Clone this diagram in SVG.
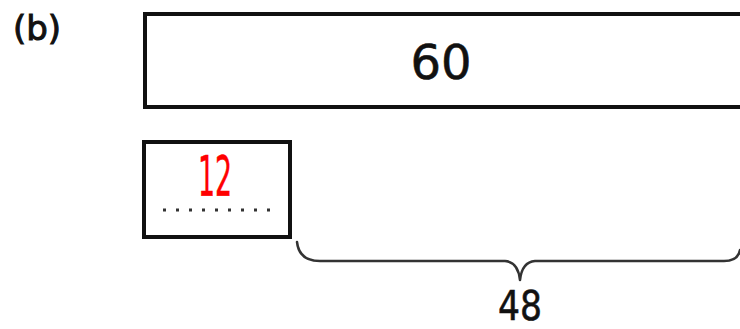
<svg xmlns="http://www.w3.org/2000/svg" width="740" height="329" viewBox="0 0 740 329">
<style>
.box{fill:#fff;stroke:#111;stroke-width:4}
.t{font-family:"DejaVu Sans","Liberation Sans",sans-serif;fill:#111;text-anchor:middle}
.brace{fill:none;stroke:#333;stroke-width:2.5;stroke-linecap:round;stroke-linejoin:round}
</style>
<rect width="740" height="329" fill="#fff"/>
<text class="t" x="37" y="40" font-size="34" stroke="#111" stroke-width="1">(b)</text>
<g id="total">
<rect class="box" x="145" y="14" width="610" height="93"/>
<text class="t" x="441" y="79" font-size="48" stroke="#111" stroke-width="0.6">60</text>
</g>
<g id="part">
<rect class="box" x="144" y="142" width="146" height="95"/>
<text class="t" x="215" y="195" font-size="56" style="fill:#f00" stroke="#f00" stroke-width="0.6" textLength="34" lengthAdjust="spacingAndGlyphs">12</text>
<line x1="163" y1="210" x2="272" y2="210" stroke="#333" stroke-width="3" stroke-dasharray="3 10" stroke-linecap="butt"/>
</g>
<g id="connectors">
<path class="brace" d="M297 242 Q299 261 320 261 L505 261 Q518 262 520 280 Q522 262 535 261 L724 261 Q738 261 740 250"/>
</g>
<g id="rest">
<text class="t" x="520" y="320" font-size="40" stroke="#111" stroke-width="0.6" textLength="44" lengthAdjust="spacingAndGlyphs">48</text>
</g>
</svg>
